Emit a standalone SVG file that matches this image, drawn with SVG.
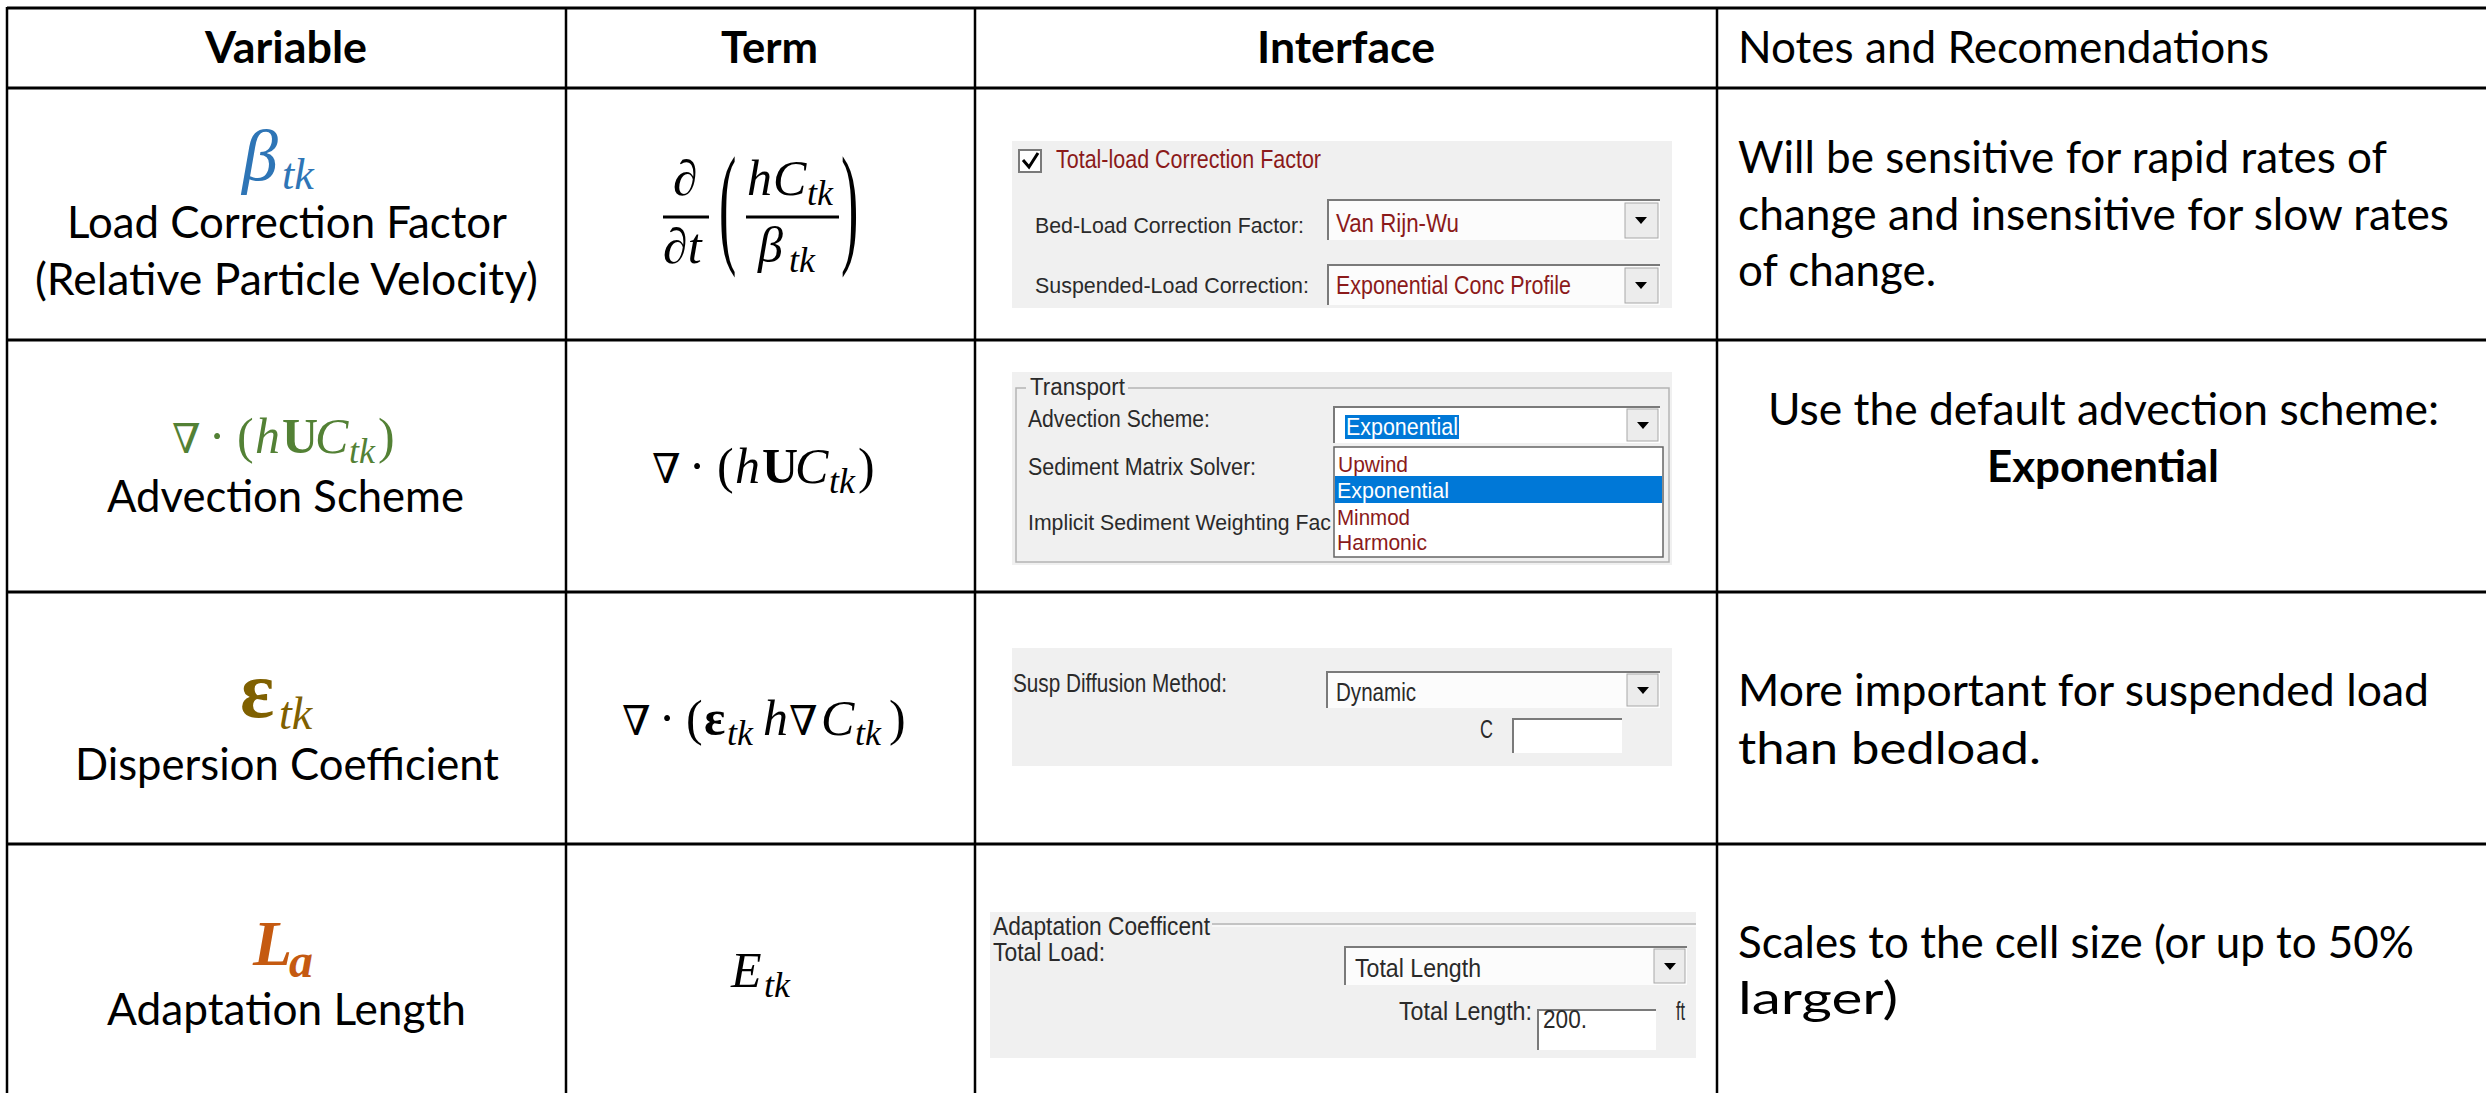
<svg xmlns="http://www.w3.org/2000/svg" width="2486" height="1093" viewBox="0 0 2486 1093">
<defs>
<style>
.t{font-family:Lato,'Open Sans','Liberation Sans',sans-serif;font-size:44px;fill:#000}
.b{font-weight:700}
.m{font-family:'Liberation Serif','DejaVu Serif',serif;font-style:italic;font-size:50px;fill:#000}
.u{font-style:normal}
.s{font-size:36px}
.nab{font-family:'DejaVu Serif','Liberation Serif',serif;font-style:normal;font-size:41px;fill:#000}
.gr{fill:#538135}
.ui{font-family:'Liberation Sans',Arial,sans-serif;font-size:23px;fill:#2a2a2a}
.big{font-size:25px}
.mid{font-size:22.5px}
.li{font-size:21.5px}
.red{fill:#8b1a1a}
.wht{fill:#fff}
.panel{fill:#f0f0f0}
.box{fill:#fcfcfc}
.sunk{fill:none;stroke:#7a7a7a;stroke-width:2}
.btn{fill:#ececec;stroke:#a8a8a8;stroke-width:1}
.grid line{stroke:#000}
</style>
</defs>
<rect width="2486" height="1093" fill="#fff"/>

<g id="grid" class="grid">
<line x1="7" y1="8" x2="2486" y2="8" stroke-width="3"/>
<line x1="7" y1="88" x2="2486" y2="88" stroke-width="3"/>
<line x1="7" y1="340" x2="2486" y2="340" stroke-width="3"/>
<line x1="7" y1="592" x2="2486" y2="592" stroke-width="3"/>
<line x1="7" y1="844" x2="2486" y2="844" stroke-width="3"/>
<line x1="7" y1="7" x2="7" y2="1093" stroke-width="2.5"/>
<line x1="566" y1="7" x2="566" y2="1093" stroke-width="2.5"/>
<line x1="975" y1="7" x2="975" y2="1093" stroke-width="2.5"/>
<line x1="1717" y1="7" x2="1717" y2="1093" stroke-width="2.5"/>
</g>

<g id="header">
<text class="t b" x="205" y="63" textLength="162" lengthAdjust="spacingAndGlyphs">Variable</text>
<text class="t b" x="721" y="63" textLength="97" lengthAdjust="spacingAndGlyphs">Term</text>
<text class="t b" x="1257" y="63" textLength="178" lengthAdjust="spacingAndGlyphs">Interface</text>
<text class="t" x="1738" y="63" textLength="531" lengthAdjust="spacingAndGlyphs">Notes and Recomendations</text>
</g>

<!-- Row 1 -->
<g id="var-beta">
<text class="m" x="242" y="180" style="font-size:72px;fill:#2e75b6">β</text>
<text class="m" x="282" y="189" style="font-size:44px;fill:#2e75b6">tk</text>
<text class="t" x="67" y="238" textLength="440" lengthAdjust="spacingAndGlyphs">Load Correction Factor</text>
<text class="t" x="35" y="295" textLength="503" lengthAdjust="spacingAndGlyphs">(Relative Particle Velocity)</text>
</g>
<g id="term-beta">
<text class="m" x="673" y="195">∂</text>
<line x1="663" y1="217" x2="709" y2="217" stroke="#000" stroke-width="3"/>
<text class="m" x="663" y="263">∂t</text>
<text class="m u" transform="translate(719,249) scale(1,2.56)" style="font-size:52px">(</text>
<text class="m" x="747" y="195">h</text>
<text class="m" x="773" y="195">C</text>
<text class="m s" x="807" y="205">tk</text>
<line x1="746" y1="217" x2="839" y2="217" stroke="#000" stroke-width="3"/>
<text class="m" x="758" y="262">β</text>
<text class="m s" x="789" y="272">tk</text>
<text class="m u" transform="translate(841,249) scale(1,2.56)" style="font-size:52px">)</text>
</g>
<g id="ui-beta">
<rect class="panel" x="1012" y="141" width="660" height="167"/>
<rect x="1019" y="150" width="22" height="22" fill="#fff" stroke="#7a7a7a" stroke-width="2"/>
<path d="M1023,160 L1029,167 L1038,153" fill="none" stroke="#000" stroke-width="3"/>
<text class="ui big red" x="1056" y="168" textLength="265" lengthAdjust="spacingAndGlyphs">Total-load Correction Factor</text>
<text class="ui mid" x="1035" y="233" textLength="269" lengthAdjust="spacingAndGlyphs">Bed-Load Correction Factor:</text>
<rect class="box" x="1328" y="200" width="332" height="40"/>
<path d="M1328,240 L1328,200 L1660,200" class="sunk"/>
<rect class="btn" x="1625" y="203" width="33" height="35"/>
<polygon points="1635,217 1647,217 1641,224" fill="#000"/>
<text class="ui big red" x="1336" y="232" textLength="123" lengthAdjust="spacingAndGlyphs">Van Rijn-Wu</text>
<text class="ui mid" x="1035" y="293" textLength="274" lengthAdjust="spacingAndGlyphs">Suspended-Load Correction:</text>
<rect class="box" x="1328" y="265" width="332" height="40"/>
<path d="M1328,305 L1328,265 L1660,265" class="sunk"/>
<rect class="btn" x="1625" y="268" width="33" height="35"/>
<polygon points="1635,282 1647,282 1641,289" fill="#000"/>
<text class="ui big red" x="1336" y="294" textLength="235" lengthAdjust="spacingAndGlyphs">Exponential Conc Profile</text>
</g>
<g id="note-beta">
<text class="t" x="1738" y="173" textLength="649" lengthAdjust="spacingAndGlyphs">Will be sensitive for rapid rates of</text>
<text class="t" x="1738" y="230" textLength="711" lengthAdjust="spacingAndGlyphs">change and insensitive for slow rates</text>
<text class="t" x="1738" y="286" textLength="198" lengthAdjust="spacingAndGlyphs">of change.</text>
</g>

<!-- Row 2 -->
<g id="var-adv">
<g transform="translate(-480,-30)">
<text class="nab gr" x="652" y="483">∇</text>
<text class="m u gr" x="697" y="483" text-anchor="middle">·</text>
<text class="m u gr" x="717" y="483">(</text>
<text class="m gr" x="735" y="483">h</text>
<text class="m u b gr" x="762" y="483">U</text>
<text class="m gr" x="795" y="483">C</text>
<text class="m s gr" x="829" y="493">tk</text>
<text class="m u gr" x="858" y="483">)</text>
</g>
<text class="t" x="107" y="512" textLength="357" lengthAdjust="spacingAndGlyphs">Advection Scheme</text>
</g>
<g id="term-adv">
<text class="nab" x="652" y="483">∇</text>
<text class="m u" x="697" y="483" text-anchor="middle">·</text>
<text class="m u" x="717" y="483">(</text>
<text class="m" x="735" y="483">h</text>
<text class="m u b" x="762" y="483">U</text>
<text class="m" x="795" y="483">C</text>
<text class="m s" x="829" y="493">tk</text>
<text class="m u" x="858" y="483">)</text>
</g>
<g id="ui-adv">
<rect class="panel" x="1012" y="372" width="660" height="193"/>
<rect x="1016" y="388" width="653" height="174" fill="none" stroke="#b4b4b4" stroke-width="1.5"/>
<rect class="panel" x="1026" y="378" width="102" height="20"/>
<text class="ui" x="1030" y="395" textLength="95" lengthAdjust="spacingAndGlyphs">Transport</text>
<text class="ui" x="1028" y="427" textLength="182" lengthAdjust="spacingAndGlyphs">Advection Scheme:</text>
<rect x="1334" y="407" width="326" height="36" fill="#fff"/>
<path d="M1334,443 L1334,407 L1660,407" class="sunk"/>
<rect x="1345" y="415" width="114" height="24" fill="#0078d7"/>
<text class="ui wht" x="1346" y="435" textLength="112" lengthAdjust="spacingAndGlyphs">Exponential</text>
<rect class="btn" x="1627" y="409" width="31" height="32"/>
<polygon points="1637,422 1649,422 1643,429" fill="#000"/>
<text class="ui" x="1028" y="475" textLength="228" lengthAdjust="spacingAndGlyphs">Sediment Matrix Solver:</text>
<text class="ui" x="1028" y="530" textLength="303" lengthAdjust="spacingAndGlyphs" style="font-size:22px">Implicit Sediment Weighting Fac</text>
<rect x="1334" y="447" width="329" height="110" fill="#fff" stroke="#646464" stroke-width="1.5"/>
<text class="ui li red" x="1338" y="472" textLength="70" lengthAdjust="spacingAndGlyphs">Upwind</text>
<rect x="1335" y="476" width="327" height="27" fill="#0078d7"/>
<text class="ui li wht" x="1337" y="498" textLength="112" lengthAdjust="spacingAndGlyphs">Exponential</text>
<text class="ui li red" x="1337" y="525" textLength="73" lengthAdjust="spacingAndGlyphs">Minmod</text>
<text class="ui li red" x="1337" y="550" textLength="90" lengthAdjust="spacingAndGlyphs">Harmonic</text>
</g>
<g id="note-adv">
<text class="t" x="1768" y="425" textLength="671" lengthAdjust="spacingAndGlyphs">Use the default advection scheme:</text>
<text class="t b" x="1987" y="482" textLength="232" lengthAdjust="spacingAndGlyphs">Exponential</text>
</g>

<!-- Row 3 -->
<g id="var-eps">
<text class="m u b" x="240" y="717" style="font-size:80px;fill:#7f6000">ε</text>
<text class="m" x="279" y="729" style="font-size:46px;fill:#7f6000">tk</text>
<text class="t" x="75" y="780" textLength="424" lengthAdjust="spacingAndGlyphs">Dispersion Coefficient</text>
</g>
<g id="term-eps">
<text class="nab" x="622" y="735">∇</text>
<text class="m u" x="667" y="735" text-anchor="middle">·</text>
<text class="m u" x="686" y="735">(</text>
<text class="m u b" x="704" y="735">ε</text>
<text class="m s" x="727" y="745">tk</text>
<text class="m" x="763" y="735">h</text>
<text class="nab" x="789" y="735">∇</text>
<text class="m" x="821" y="735">C</text>
<text class="m s" x="855" y="745">tk</text>
<text class="m u" x="889" y="735">)</text>
</g>
<g id="ui-eps">
<rect class="panel" x="1012" y="648" width="660" height="118"/>
<text class="ui big" x="1013" y="692" textLength="214" lengthAdjust="spacingAndGlyphs">Susp Diffusion Method:</text>
<rect class="box" x="1327" y="672" width="333" height="36"/>
<path d="M1327,708 L1327,672 L1660,672" class="sunk"/>
<rect class="btn" x="1627" y="674" width="31" height="32"/>
<polygon points="1637,687 1649,687 1643,694" fill="#000"/>
<text class="ui big" x="1336" y="701" textLength="80" lengthAdjust="spacingAndGlyphs">Dynamic</text>
<text class="ui big" x="1480" y="738" textLength="13" lengthAdjust="spacingAndGlyphs">C</text>
<rect x="1513" y="719" width="109" height="34" fill="#fff"/>
<path d="M1513,753 L1513,719 L1622,719" class="sunk"/>
</g>
<g id="note-eps">
<text class="t" x="1738" y="706" textLength="691" lengthAdjust="spacingAndGlyphs">More important for suspended load</text>
<text class="t" x="1738" y="764" textLength="303" lengthAdjust="spacingAndGlyphs">than bedload.</text>
</g>

<!-- Row 4 -->
<g id="var-la">
<text class="m b" x="253" y="965" style="font-size:64px;fill:#c55a11">L</text>
<text class="m b" x="289" y="977" style="font-size:48px;fill:#c55a11">a</text>
<text class="t" x="107" y="1025" textLength="359" lengthAdjust="spacingAndGlyphs">Adaptation Length</text>
</g>
<g id="term-la">
<text class="m" x="731" y="987">E</text>
<text class="m s" x="764" y="997">tk</text>
</g>
<g id="ui-la">
<rect class="panel" x="990" y="912" width="706" height="146"/>
<line x1="1212" y1="924" x2="1696" y2="924" stroke="#b4b4b4" stroke-width="1.5"/>
<line x1="1212" y1="926" x2="1696" y2="926" stroke="#fff" stroke-width="1"/>
<text class="ui big" x="993" y="935" textLength="217" lengthAdjust="spacingAndGlyphs">Adaptation Coefficent</text>
<text class="ui big" x="993" y="961" textLength="112" lengthAdjust="spacingAndGlyphs">Total Load:</text>
<rect class="box" x="1345" y="947" width="342" height="38"/>
<path d="M1345,985 L1345,947 L1687,947" class="sunk"/>
<rect class="btn" x="1654" y="949" width="31" height="34"/>
<polygon points="1664,963 1676,963 1670,970" fill="#000"/>
<text class="ui big" x="1355" y="977" textLength="126" lengthAdjust="spacingAndGlyphs">Total Length</text>
<text class="ui big" x="1399" y="1020" textLength="133" lengthAdjust="spacingAndGlyphs">Total Length:</text>
<rect x="1538" y="1010" width="118" height="40" fill="#fff"/>
<path d="M1538,1050 L1538,1010 L1656,1010" class="sunk"/>
<text class="ui big" x="1543" y="1028" textLength="44" lengthAdjust="spacingAndGlyphs">200.</text>
<text class="ui big" x="1676" y="1020" textLength="9" lengthAdjust="spacingAndGlyphs">ft</text>
</g>
<g id="note-la">
<text class="t" x="1738" y="958" textLength="676" lengthAdjust="spacingAndGlyphs">Scales to the cell size (or up to 50%</text>
<text class="t" x="1738" y="1014" textLength="160" lengthAdjust="spacingAndGlyphs">larger)</text>
</g>
</svg>
